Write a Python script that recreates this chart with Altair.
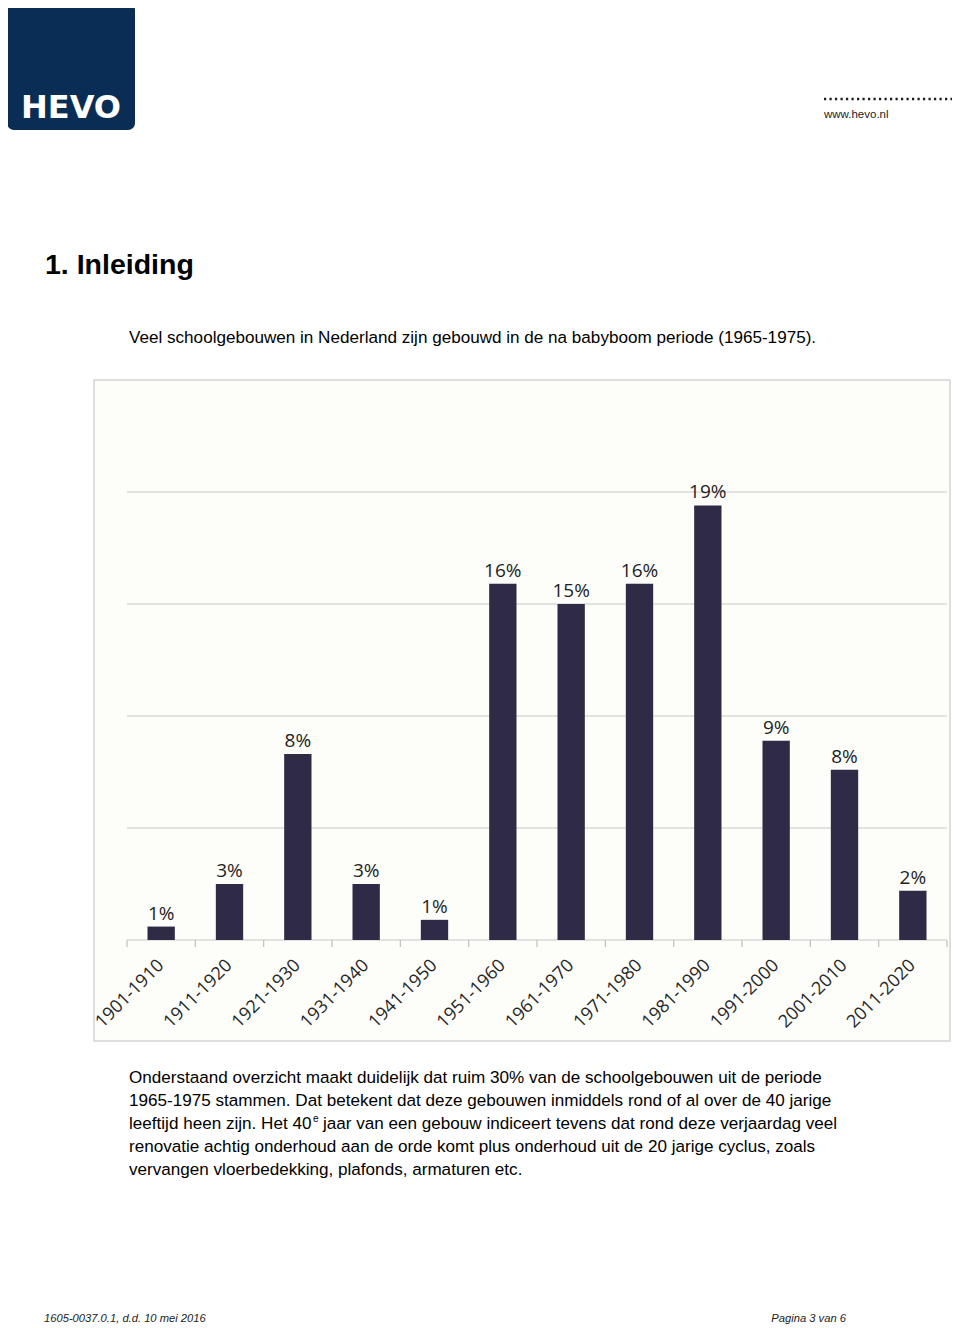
import altair as alt
import pandas as pd

# ---- data ----
periods = ["1901-1910", "1911-1920", "1921-1930", "1931-1940", "1941-1950", "1951-1960",
           "1961-1970", "1971-1980", "1981-1990", "1991-2000", "2001-2010", "2011-2020"]
shares = [0.6, 2.5, 8.3, 2.5, 0.9, 15.9, 15.0, 15.9, 19.4, 8.9, 7.6, 2.2]
share_labels = ["1%", "3%", "8%", "3%", "1%", "16%", "15%", "16%", "19%", "9%", "8%", "2%"]
grid_values = [0, 5, 10, 15, 20]
tick_index = list(range(len(periods) + 1))

heading = "1. Inleiding"
intro = "Veel schoolgebouwen in Nederland zijn gebouwd in de na babyboom periode (1965-1975)."
para_lines = [
    "Onderstaand overzicht maakt duidelijk dat ruim 30% van de schoolgebouwen uit de periode",
    "1965-1975 stammen. Dat betekent dat deze gebouwen inmiddels rond of al over de 40 jarige",
    None,
    "renovatie achtig onderhoud aan de orde komt plus onderhoud uit de 20 jarige cyclus, zoals",
    "vervangen vloerbedekking, plafonds, armaturen etc.",
]
line3_a = "leeftijd heen zijn. Het 40"
line3_sup = "e"
line3_b = "jaar van een gebouw indiceert tevens dat rond deze verjaardag veel"
footer_left = "1605-0037.0.1, d.d. 10 mei 2016"
footer_right = "Pagina 3 van 6"
site = "www.hevo.nl"
logo_text = "HEVO"

df = pd.DataFrame({"period": periods, "share": shares, "label": share_labels})
grid_df = pd.DataFrame({"g": grid_values})
tick_df = pd.DataFrame({"k": tick_index})
one = pd.DataFrame({"a": [0]})

BODY = "Liberation Sans"
BODY_SIZE = 17.1


def txt(s, x, y, size, font=BODY, weight="normal", style="normal", align="left", color="#000000"):
    return alt.Chart(one).mark_text(
        text=s, align=align, baseline="alphabetic", font=font, fontSize=size,
        fontWeight=weight, fontStyle=style, color=color
    ).encode(x=alt.value(x), y=alt.value(y))


def box(x, x2, y, y2, fill, stroke=None, radius=0, sw=1):
    kw = dict(fill=fill, cornerRadius=radius)
    if stroke:
        kw.update(stroke=stroke, strokeWidth=sw)
    return alt.Chart(one).mark_rect(**kw).encode(
        x=alt.value(x), x2=alt.value(x2), y=alt.value(y), y2=alt.value(y2))


# ---- page elements ----
logo = box(-1, 127, -5, 122, "#0a2d55", radius=7)
logo_t = txt(logo_text, 63, 110, 32, font="DejaVu Sans", weight="bold", align="center", color="#ffffff")
dots = alt.Chart(one).mark_rule(color="#1a1a1a", strokeWidth=2.4, strokeDash=[2.2, 3.3]).encode(
    x=alt.value(816), x2=alt.value(950), y=alt.value(91))
site_t = txt(site, 816, 110, 11.5, color="#222222")
head_t = txt(heading, 37, 266, 28.5, weight="bold")
intro_t = txt(intro, 121, 335, BODY_SIZE)

chart_box = box(86, 942, 372, 1033, "#fdfdfa", stroke="#d4d4d4", sw=1.5)

para = []
ys = [1075, 1098, 1121, 1144, 1167]
for line, yy in zip(para_lines, ys):
    if line is not None:
        para.append(txt(line, 121, yy, BODY_SIZE))
para.append(txt(line3_a, 121, 1121, BODY_SIZE))
para.append(txt(line3_sup, 305, 1114, 10))
para.append(txt(line3_b, 315, 1121, BODY_SIZE))

foot_l = txt(footer_left, 36, 1314, 11.2, style="italic", color="#222222")
foot_r = txt(footer_right, 838, 1314, 11.2, style="italic", align="right", color="#222222")

# ---- bar chart ----
xscale = alt.Scale(domain=periods, range=[119, 939], paddingInner=0.6, paddingOuter=0.3)
yscale = alt.Scale(domain=[0, 20], range=[932, 484])
X = alt.X("period:N", scale=xscale, axis=None, sort=periods)

grid = alt.Chart(grid_df).mark_rule(color="#d9d9d9", strokeWidth=1.3).encode(
    y=alt.Y("g:Q", scale=yscale, axis=None), x=alt.value(119), x2=alt.value(939))
bars = alt.Chart(df).mark_bar(color="#2f2b46").encode(
    x=X, y=alt.Y("share:Q", scale=yscale, axis=None))
vlab = alt.Chart(df).mark_text(baseline="alphabetic", dy=-7, font="Open Sans", fontSize=19,
                               color="#1e1e1e").encode(
    x=X, y=alt.Y("share:Q", scale=yscale, axis=None), text="label:N")
xlab = alt.Chart(df).mark_text(angle=315, align="right", baseline="middle", font="Open Sans",
                               fontSize=18, color="#262626").encode(
    x=X, y=alt.value(955), text="period:N")
inner = alt.layer(grid, bars, vlab, xlab)

ticks = alt.Chart(tick_df).mark_rule(color="#bfbfbf", strokeWidth=1.2).encode(
    x=alt.X("k:Q", scale=alt.Scale(domain=[0, len(periods)], range=[119, 939]), axis=None),
    y=alt.value(932), y2=alt.value(939))

chart = alt.layer(
    logo, logo_t, dots, site_t, head_t, intro_t, chart_box, inner, ticks, *para, foot_l, foot_r
).resolve_scale(x="independent").properties(
    width=944, height=1318, padding=0,
    autosize=alt.AutoSizeParams(type="none"), background="#ffffff"
).configure_view(stroke=None)

chart.save("out.html", embed_options={"renderer": "svg", "actions": False})
